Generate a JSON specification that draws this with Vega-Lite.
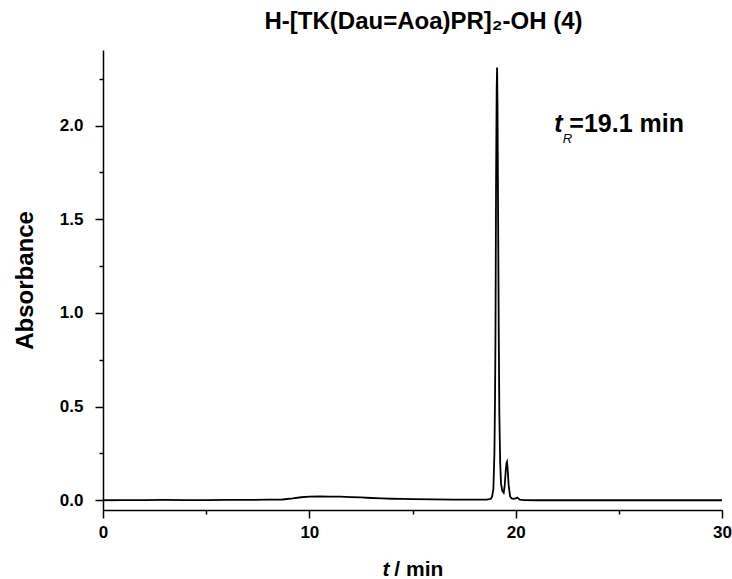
{
  "$schema": "https://vega.github.io/schema/vega-lite/v6.json",
  "width": 619,
  "height": 460,
  "autosize": {"type": "none"},
  "padding": {"left": 103, "top": 50, "right": 10, "bottom": 69},
  "background": "white",
  "config": {"view": {"stroke": null}, "font": "Liberation Sans"},
  "title": {"text": "H-[TK(Dau=Aoa)PR]₂-OH (4)", "font": "Liberation Sans", "fontSize": 24, "fontWeight": "bold", "color": "black", "anchor": "middle", "offset": 16, "dx": 11},
  "layer": [
    {
      "data": {"values": [
        {"t": 0, "a": 0.0}, {"t": 1, "a": 0.001}, {"t": 2, "a": 0.001}, {"t": 3, "a": 0.002}, {"t": 4, "a": 0.001},
        {"t": 5, "a": 0.001}, {"t": 6, "a": 0.002}, {"t": 7, "a": 0.002}, {"t": 8, "a": 0.003}, {"t": 8.7, "a": 0.004},
        {"t": 9.2, "a": 0.01}, {"t": 9.6, "a": 0.016}, {"t": 10, "a": 0.019}, {"t": 10.5, "a": 0.02}, {"t": 11, "a": 0.019},
        {"t": 11.5, "a": 0.019}, {"t": 12, "a": 0.017}, {"t": 12.5, "a": 0.015}, {"t": 13, "a": 0.012}, {"t": 13.5, "a": 0.01},
        {"t": 14, "a": 0.008}, {"t": 14.5, "a": 0.007}, {"t": 15, "a": 0.006}, {"t": 16, "a": 0.005}, {"t": 17, "a": 0.003},
        {"t": 18, "a": 0.003}, {"t": 18.6, "a": 0.003}, {"t": 18.8, "a": 0.008}, {"t": 18.86, "a": 0.02}, {"t": 18.92, "a": 0.06},
        {"t": 18.97, "a": 0.25}, {"t": 19.0, "a": 0.55}, {"t": 19.02, "a": 0.85}, {"t": 19.05, "a": 1.7}, {"t": 19.08, "a": 2.2},
        {"t": 19.1, "a": 2.31}, {"t": 19.12, "a": 2.1}, {"t": 19.15, "a": 1.5}, {"t": 19.18, "a": 0.9}, {"t": 19.21, "a": 0.45},
        {"t": 19.25, "a": 0.2}, {"t": 19.29, "a": 0.09}, {"t": 19.35, "a": 0.05}, {"t": 19.42, "a": 0.04}, {"t": 19.47, "a": 0.08},
        {"t": 19.52, "a": 0.16}, {"t": 19.56, "a": 0.2}, {"t": 19.58, "a": 0.205}, {"t": 19.61, "a": 0.17}, {"t": 19.66, "a": 0.08},
        {"t": 19.73, "a": 0.02}, {"t": 19.8, "a": 0.01}, {"t": 19.9, "a": 0.008}, {"t": 20.0, "a": 0.01}, {"t": 20.08, "a": 0.014},
        {"t": 20.13, "a": 0.01}, {"t": 20.2, "a": 0.003}, {"t": 20.4, "a": 0.001}, {"t": 21, "a": 0.0}, {"t": 25, "a": 0.0}, {"t": 30, "a": 0.0}
      ]},
      "mark": {"type": "line", "color": "black", "strokeWidth": 1.8, "interpolate": "linear"},
      "encoding": {
        "x": {"field": "t", "type": "quantitative",
          "scale": {"domain": [0, 30], "nice": false, "zero": false},
          "axis": {"title": null, "values": [0, 5, 10, 15, 20, 25, 30], "grid": false,
            "labelExpr": "datum.value % 10 === 0 ? format(datum.value, 'd') : ''",
            "labelFont": "Liberation Sans", "labelFontSize": 17, "labelFontWeight": "bold", "labelColor": "black",
            "domainColor": "black", "domainWidth": 1.5, "tickColor": "black", "tickWidth": 1.5,
            "tickSize": {"condition": {"test": "datum.value % 10 !== 0", "value": 4}, "value": 8},
            "labelPadding": 6, "labelFlush": false, "labelOverlap": false}},
        "y": {"field": "a", "type": "quantitative",
          "scale": {"domain": [-0.052, 2.404], "nice": false, "zero": false},
          "axis": {"title": "Absorbance", "values": [0, 0.25, 0.5, 0.75, 1, 1.25, 1.5, 1.75, 2, 2.25], "grid": false,
            "labelExpr": "abs(datum.value * 2 - round(datum.value * 2)) < 0.01 ? format(datum.value, '.1f') : ''",
            "labelFont": "Liberation Sans", "labelFontSize": 17, "labelFontWeight": "bold", "labelColor": "black",
            "domainColor": "black", "domainWidth": 1.5, "tickColor": "black", "tickWidth": 1.5,
            "tickSize": {"condition": {"test": "abs(datum.value * 2 - round(datum.value * 2)) > 0.01", "value": 4}, "value": 8},
            "labelPadding": 12, "labelFlush": false, "labelOverlap": false,
            "titleFont": "Liberation Sans", "titleFontSize": 24, "titleFontWeight": "bold", "titleColor": "black", "titlePadding": 22}}
      }
    },
    {
      "data": {"values": [{}]},
      "mark": {"type": "text", "text": "t", "font": "Liberation Sans", "fontSize": 25, "fontWeight": "bold", "fontStyle": "italic", "align": "left", "baseline": "alphabetic", "color": "black"},
      "encoding": {"x": {"datum": 21.87, "type": "quantitative"}, "y": {"datum": 1.966, "type": "quantitative"}}
    },
    {
      "data": {"values": [{}]},
      "mark": {"type": "text", "text": "R", "font": "Liberation Sans", "fontSize": 13, "fontWeight": "normal", "fontStyle": "italic", "align": "left", "baseline": "alphabetic", "color": "black"},
      "encoding": {"x": {"datum": 22.28, "type": "quantitative"}, "y": {"datum": 1.91, "type": "quantitative"}}
    },
    {
      "data": {"values": [{}]},
      "mark": {"type": "text", "text": "=19.1 min", "font": "Liberation Sans", "fontSize": 25, "fontWeight": "bold", "align": "left", "baseline": "alphabetic", "color": "black"},
      "encoding": {"x": {"datum": 22.6, "type": "quantitative"}, "y": {"datum": 1.966, "type": "quantitative"}}
    },
    {
      "data": {"values": [{}]},
      "mark": {"type": "text", "text": "t", "font": "Liberation Sans", "fontSize": 21, "fontWeight": "bold", "fontStyle": "italic", "align": "left", "baseline": "alphabetic", "color": "black"},
      "encoding": {"x": {"datum": 13.55, "type": "quantitative"}, "y": {"datum": -0.402, "type": "quantitative"}}
    },
    {
      "data": {"values": [{}]},
      "mark": {"type": "text", "text": "/ min", "font": "Liberation Sans", "fontSize": 21, "fontWeight": "bold", "align": "left", "baseline": "alphabetic", "color": "black"},
      "encoding": {"x": {"datum": 14.12, "type": "quantitative"}, "y": {"datum": -0.402, "type": "quantitative"}}
    }
  ]
}
